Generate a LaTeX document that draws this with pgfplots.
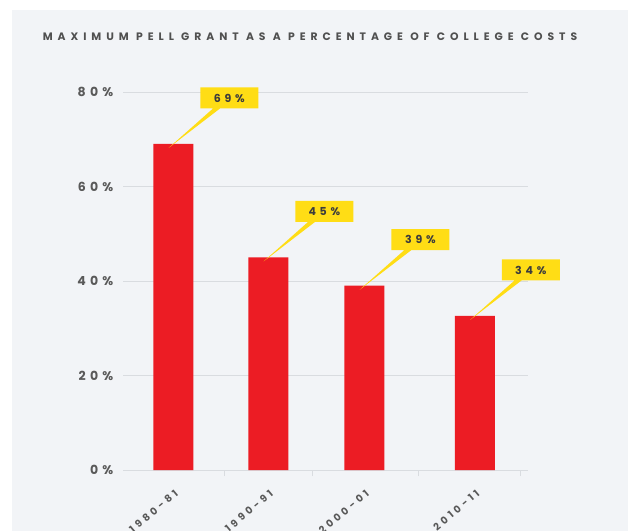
\documentclass[border=0pt]{standalone}
\usepackage{pgfplots}
\pgfplotsset{compat=1.18}
\usepackage{pgfplotstable}
\usepackage{fontspec}
\usetikzlibrary{shapes.callouts}
\setmainfont{Poppins}
\newfontfamily\titlefont[LetterSpace=46]{Poppins}
\newfontfamily\labfont[LetterSpace=34]{Poppins}
\definecolor{panel}{HTML}{F2F4F7}
\definecolor{barred}{HTML}{EC1C24}
\definecolor{callyel}{HTML}{FFDD15}
\definecolor{txt}{HTML}{3C3C3C}
\definecolor{gridgray}{HTML}{D9DCE0}
\pgfplotstableread{
x val lab
174 69 69\%
270.5 45 45\%
368 39 39\%
480 32.6 34\%
}\pelltable
\begin{document}
\begin{tikzpicture}
\useasboundingbox (0,0) rectangle (628bp,531bp);
\fill[white] (0,0) rectangle (628bp,531bp);
\fill[panel] (12bp,0) rectangle (628bp,521bp);
\node[text=txt!90,font=\titlefont\bfseries\fontsize{10.8bp}{13bp}\selectfont,anchor=center] at (310bp,494bp) {MAXIMUM PELL GRANT AS A PERCENTAGE OF COLLEGE COSTS};
\begin{axis}[
  at={(123bp,61bp)}, anchor=south west,
  scale only axis, width=405bp, height=378bp,
  xmin=123, xmax=534, ymin=0, ymax=80,
  clip=false,
  axis lines=left,
  x axis line style={draw=gridgray, line width=1bp, -},
  y axis line style={draw=none},
  ymajorgrids, grid style={draw=gridgray, line width=1bp},
  ytick={0,20,40,60,80},
  yticklabels={0\%,20\%,40\%,60\%,80\%},
  yticklabel style={font=\labfont\bfseries\fontsize{12.5bp}{14bp}\selectfont, text=txt!85, xshift=-4bp},
  ytick style={draw=none},
  xtick={174,270.5,368,480},
  xticklabels={1980-81,1990-91,2000-01,2010-11},
  xticklabel style={font=\labfont\bfseries\fontsize{10bp}{12bp}\selectfont, text=txt!85, rotate=40, anchor=north east, xshift=-7bp, yshift=-10bp},
  xtick style={draw=none},
  extra x ticks={226,315,423,526},
  extra x tick labels={},
  extra x tick style={xtick style={draw=gridgray, line width=0.8bp}, major tick length=6bp, tick align=outside},
]
\addplot[ybar, bar width=40bp, fill=barred, draw=none,
  nodes near coords,
  point meta=explicit symbolic,
  every node near coord/.style={
    rectangle callout, fill=callyel, anchor=center,
    xshift=56bp, yshift=46bp,
    callout relative pointer={(-48bp,-39.5bp)},
    callout pointer width=7bp,
    minimum width=58bp, minimum height=21bp, inner sep=0pt,
    text=txt, font=\labfont\bfseries\fontsize{11bp}{13bp}\selectfont}
] table[x=x, y=val, meta=lab] {\pelltable};
\end{axis}
\end{tikzpicture}
\end{document}
